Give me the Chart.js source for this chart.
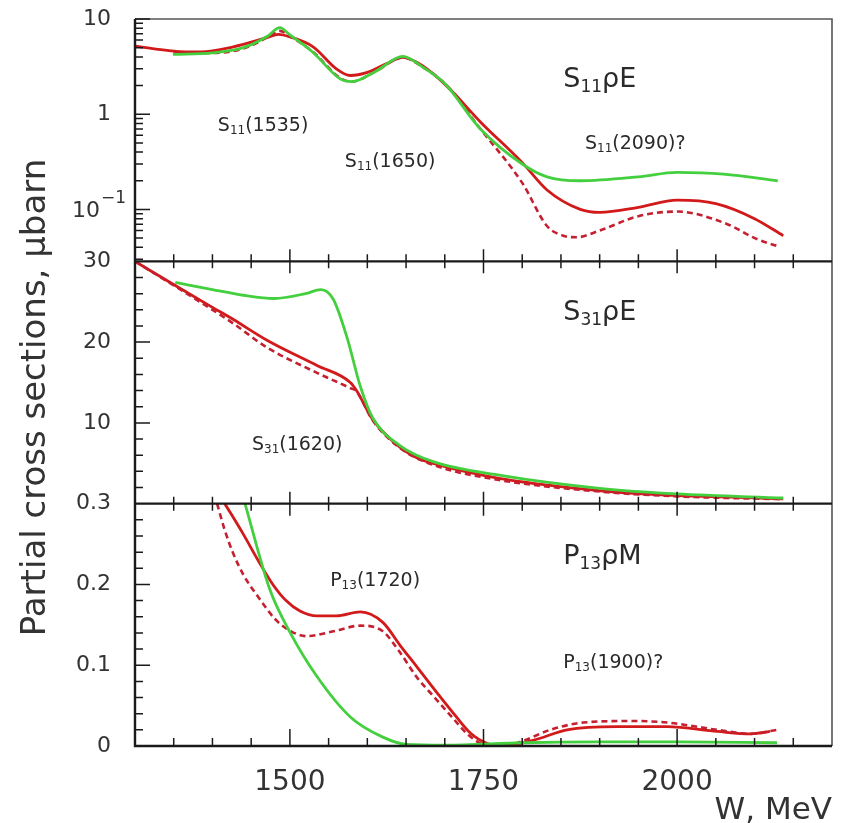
<!DOCTYPE html>
<html>
<head>
<meta charset="utf-8">
<script src="https://cdn.jsdelivr.net/npm/chart.js@4/dist/chart.umd.min.js"></script>
<style>
  html, body { margin: 0; padding: 0; background: #fff; }
  #wrap { width: 844px; height: 823px; }
</style>
</head>
<body>
<div id="wrap"><canvas id="xsecChart" width="844" height="823"></canvas></div>
<script>
// Partial cross sections S11pE / S31pE / P13pM vs W

// x axis
const wMin = 1300;
const wMax = 2200;
const wTicks = [1500, 1750, 2000];

// S11pE panel (log scale)
const s11Ticks = [0.1, 1, 10];
const s11TickLabels = ["", "1", "10"];
const s11RedW = [1300, 1350, 1385, 1427, 1471, 1485, 1500, 1530, 1560, 1578, 1600, 1625, 1646, 1672, 1703, 1746, 1800, 1832, 1875, 1900, 1950, 2000, 2050, 2100, 2137];
const s11Red = [5.2, 4.6, 4.5, 5.1, 6.4, 6.9, 6.5, 5.1, 3.0, 2.55, 2.75, 3.4, 3.95, 3.2, 1.96, 0.83, 0.31, 0.16, 0.1, 0.093, 0.105, 0.125, 0.115, 0.08, 0.053];
const s11GreenW = [1349, 1400, 1440, 1471, 1487, 1500, 1530, 1565, 1580, 1610, 1646, 1672, 1700, 1746, 1800, 1832, 1875, 1950, 2000, 2060, 2130];
const s11Green = [4.25, 4.4, 5.0, 6.6, 8.1, 6.8, 4.45, 2.35, 2.2, 2.8, 4.05, 3.1, 2.1, 0.7, 0.3, 0.22, 0.2, 0.22, 0.245, 0.235, 0.2];
const s11DashW = [1350, 1400, 1440, 1471, 1487, 1500, 1530, 1565, 1580, 1610, 1646, 1672, 1700, 1746, 1800, 1832, 1853, 1870, 1900, 1950, 2000, 2065, 2100, 2130];
const s11Dash = [4.4, 4.4, 4.9, 6.4, 7.5, 6.6, 4.5, 2.4, 2.2, 2.8, 3.95, 3.1, 2.1, 0.7, 0.19, 0.067, 0.053, 0.051, 0.06, 0.085, 0.095, 0.07, 0.05, 0.041];

// S31pE panel
const s31Ticks = [10, 20, 30];
const s31RedW = [1300, 1352, 1400, 1427, 1471, 1535, 1578, 1586, 1607, 1642, 1668, 1685, 1730, 1772, 1850, 1901, 2000, 2070, 2137];
const s31Red = [30, 27.0, 24.3, 22.8, 20.2, 17.1, 15.0, 14.0, 10.4, 7.0, 5.5, 5.0, 3.9, 3.1, 2.1, 1.6, 1.0, 0.8, 0.6];
const s31GreenW = [1352, 1400, 1440, 1480, 1520, 1540, 1556, 1574, 1591, 1607, 1642, 1685, 1772, 1900, 2000, 2137];
const s31Green = [27.4, 26.5, 25.8, 25.4, 26.0, 26.5, 25.3, 20.5, 14.5, 10.6, 7.2, 5.2, 3.5, 1.9, 1.2, 0.7];
const s31DashW = [1300, 1352, 1427, 1471, 1535, 1578, 1586, 1607, 1642, 1685, 1772, 1900, 2000, 2137];
const s31Dash = [30, 26.9, 22.3, 19.3, 16.2, 14.3, 13.9, 10.3, 6.9, 4.8, 2.9, 1.5, 0.9, 0.55];

// P13pM panel
const p13Ticks = [0, 0.1, 0.2, 0.3];
const p13RedW = [1416, 1440, 1460, 1478, 1495, 1513, 1535, 1560, 1591, 1620, 1642, 1664, 1685, 1710, 1733, 1755, 1775, 1814, 1858, 1922, 1987, 2052, 2095, 2120];
const p13Red = [0.3, 0.262, 0.228, 0.2, 0.18, 0.167, 0.161, 0.161, 0.166, 0.153, 0.125, 0.098, 0.072, 0.042, 0.016, 0.003, 0.0, 0.007, 0.02, 0.024, 0.024, 0.018, 0.015, 0.018];
const p13DashW = [1406, 1416, 1427, 1440, 1461, 1480, 1496, 1522, 1556, 1591, 1620, 1642, 1664, 1685, 1710, 1729, 1750, 1772, 1800, 1836, 1879, 1943, 1987, 2052, 2095, 2129];
const p13Dash = [0.3, 0.267, 0.238, 0.212, 0.182, 0.158, 0.145, 0.136, 0.142, 0.149, 0.142, 0.116, 0.085, 0.062, 0.035, 0.015, 0.002, 0.0, 0.006, 0.02, 0.029, 0.031, 0.029, 0.02, 0.015, 0.02];
const p13GreenW = [1442, 1474, 1500, 1535, 1578, 1620, 1651, 1700, 1800, 1900, 2000, 2129];
const p13Green = [0.3, 0.194, 0.141, 0.086, 0.036, 0.011, 0.002, 0.001, 0.004, 0.005, 0.005, 0.004];

// annotations: parts alternate normal / subscript
const noteParts = [
  ["S", "11", "\u03C1E"], ["S", "11", "(1535)"], ["S", "11", "(1650)"], ["S", "11", "(2090)?"],
  ["S", "31", "\u03C1E"], ["S", "31", "(1620)"],
  ["P", "13", "\u03C1M"], ["P", "13", "(1720)"], ["P", "13", "(1900)?"]
];
const noteAxis = ["yS11", "yS11", "yS11", "yS11", "yS31", "yS31", "yP13", "yP13", "yP13"];
const noteW = [1853, 1407, 1571, 1881, 1853, 1451, 1853, 1552, 1853];
const noteV = [1.92, 0.66, 0.28, 0.43, 22.7, 6.6, 0.225, 0.198, 0.097];
const noteBig = [true, false, false, false, true, false, true, false, false];

const yTitle = "Partial cross sections, \u03BCbarn";
const xTitle = "W, MeV";

const FONT = "'DejaVu Sans', sans-serif";
const GREEN = "#44cf3e";
const RED = "#d21a1a";
const RED_DASH = "#c42030";

function toPoints(ws, vs) {
  return ws.map((w, i) => ({ x: w, y: vs[i] }));
}

function lineSet(ws, vs, axis, color, dashed) {
  return {
    data: toPoints(ws, vs),
    yAxisID: axis,
    borderColor: color,
    borderWidth: dashed ? 2.6 : 2.8,
    borderDash: dashed ? [6, 4] : [],
    pointRadius: 0,
    fill: false,
    cubicInterpolationMode: "monotone",
  };
}

function drawSubText(ctx, parts, x, y, size) {
  const subSize = Math.round(size * 0.62);
  let cx = x;
  parts.forEach((part, i) => {
    const isSub = i % 2 === 1;
    ctx.font = (isSub ? subSize : size) + "px " + FONT;
    ctx.fillText(part, cx, isSub ? y + size * 0.16 : y);
    cx += ctx.measureText(part).width;
  });
}

const frameTicks = {
  id: "frameTicks",
  afterDatasetsDraw(chart) {
    const ctx = chart.ctx;
    const area = chart.chartArea;
    const xs = chart.scales.x;
    const yTop = chart.scales.yS11;
    const yMid = chart.scales.yS31;
    const yBot = chart.scales.yP13;

    ctx.save();
    ctx.lineCap = "butt";

    // top and right edges
    ctx.strokeStyle = "#555";
    ctx.lineWidth = 1.6;
    ctx.beginPath();
    ctx.moveTo(area.left, area.top);
    ctx.lineTo(area.right, area.top);
    ctx.lineTo(area.right, area.bottom);
    ctx.stroke();

    // left axis, bottom axis and panel joins
    ctx.strokeStyle = "#1a1a1a";
    ctx.lineWidth = 2.4;
    ctx.beginPath();
    ctx.moveTo(area.left, area.top);
    ctx.lineTo(area.left, area.bottom);
    ctx.lineTo(area.right, area.bottom);
    ctx.moveTo(area.left, yMid.top);
    ctx.lineTo(area.right, yMid.top);
    ctx.moveTo(area.left, yBot.top);
    ctx.lineTo(area.right, yBot.top);
    ctx.stroke();

    ctx.lineWidth = 1.5;
    ctx.beginPath();
    // x ticks
    for (let w = wMin + 50; w < wMax; w += 50) {
      const px = xs.getPixelForValue(w);
      const major = wTicks.includes(w);
      const len = major ? 12 : 7;
      [yMid.top, yBot.top].forEach((py) => {
        ctx.moveTo(px, py - len);
        ctx.lineTo(px, py + len);
      });
      ctx.moveTo(px, area.bottom);
      ctx.lineTo(px, area.bottom - (major ? 17 : 8));
    }
    // log panel ticks
    for (let k = -2; k <= 1; k++) {
      for (let m = 1; m <= 9; m++) {
        const v = m * Math.pow(10, k);
        if (v < yTop.min || v > yTop.max) continue;
        const py = yTop.getPixelForValue(v);
        ctx.moveTo(area.left, py);
        ctx.lineTo(area.left + (m === 1 ? 15 : 8), py);
      }
    }
    // S31 ticks
    for (let i = 1; i < 15; i++) {
      const py = yMid.getPixelForValue(i * 2);
      ctx.moveTo(area.left, py);
      ctx.lineTo(area.left + (i % 5 === 0 ? 15 : 8), py);
    }
    // P13 ticks
    for (let i = 1; i < 15; i++) {
      const py = yBot.getPixelForValue(i * 0.02);
      ctx.moveTo(area.left, py);
      ctx.lineTo(area.left + (i % 5 === 0 ? 15 : 8), py);
    }
    ctx.stroke();
    ctx.restore();
  },
  afterDraw(chart) {
    const ctx = chart.ctx;
    const xs = chart.scales.x;
    const yTop = chart.scales.yS11;
    ctx.save();
    ctx.fillStyle = "#2a2a2a";
    ctx.textBaseline = "alphabetic";
    ctx.textAlign = "left";
    noteParts.forEach((parts, i) => {
      const ys = chart.scales[noteAxis[i]];
      const px = xs.getPixelForValue(noteW[i]);
      const py = ys.getPixelForValue(noteV[i]);
      drawSubText(ctx, parts, px, py, noteBig[i] ? 27 : 19);
    });

    // 10^-1 label of the log panel, with a real superscript
    const py = yTop.getPixelForValue(s11Ticks[0]);
    ctx.fillStyle = "#333";
    ctx.textBaseline = "middle";
    ctx.textAlign = "right";
    ctx.font = "22px " + FONT;
    ctx.fillText("10", 100, py + 2);
    ctx.textAlign = "left";
    ctx.font = "17px " + FONT;
    ctx.fillText("\u22121", 101, py - 11);

    // y axis title spanning the three panels
    ctx.textBaseline = "alphabetic";
    ctx.translate(45, (chart.chartArea.top + chart.chartArea.bottom) / 2 + 15);
    ctx.rotate(-Math.PI / 2);
    ctx.textAlign = "center";
    ctx.font = "34px " + FONT;
    ctx.fillText(yTitle, 0, 0);
    ctx.restore();
  },
};

function fixedTicks(values) {
  return function (scale) {
    scale.ticks = values.map((v) => ({ value: v }));
  };
}

const yCommon = {
  position: "left",
  stack: "panels",
  stackWeight: 1,
  grid: { display: false, drawTicks: false },
  border: { display: false },
  afterFit: (scale) => {
    scale.width = 135;
    scale.paddingTop = 0;
    scale.paddingBottom = 0;
  },
};

const tickFont = { family: FONT, size: 22 };

new Chart(document.getElementById("xsecChart"), {
  type: "line",
  data: {
    datasets: [
      lineSet(s11GreenW, s11Green, "yS11", GREEN, false),
      lineSet(s11DashW, s11Dash, "yS11", RED_DASH, true),
      lineSet(s11RedW, s11Red, "yS11", RED, false),
      lineSet(s31GreenW, s31Green, "yS31", GREEN, false),
      lineSet(s31DashW, s31Dash, "yS31", RED_DASH, true),
      lineSet(s31RedW, s31Red, "yS31", RED, false),
      lineSet(p13GreenW, p13Green, "yP13", GREEN, false),
      lineSet(p13DashW, p13Dash, "yP13", RED_DASH, true),
      lineSet(p13RedW, p13Red, "yP13", RED, false),
    ],
  },
  options: {
    responsive: false,
    animation: false,
    devicePixelRatio: 1,
    layout: { padding: { left: 0, right: 12, top: 19, bottom: 0 } },
    plugins: {
      legend: { display: false },
      tooltip: { enabled: false },
    },
    scales: {
      x: {
        type: "linear",
        min: wMin,
        max: wMax,
        grid: { display: false, drawTicks: false },
        border: { display: false },
        afterBuildTicks: fixedTicks(wTicks),
        afterFit: (scale) => {
          scale.height = 77;
          scale.paddingLeft = 0;
          scale.paddingRight = 0;
        },
        ticks: {
          autoSkip: false,
          maxRotation: 0,
          padding: 20,
          color: "#333",
          font: { family: FONT, size: 28 },
          callback: (v) => String(v),
        },
        title: {
          display: true,
          text: xTitle,
          align: "end",
          color: "#333",
          padding: { top: 0, bottom: 0 },
          font: { family: FONT, size: 31, lineHeight: 0.8 },
        },
      },
      yP13: Object.assign({}, yCommon, {
        type: "linear",
        min: 0,
        max: 0.3,
        afterBuildTicks: fixedTicks(p13Ticks),
        ticks: { autoSkip: false, padding: 24, color: "#333", font: tickFont, callback: (v) => String(v) },
      }),
      yS31: Object.assign({}, yCommon, {
        type: "linear",
        min: 0,
        max: 30,
        afterBuildTicks: fixedTicks(s31Ticks),
        ticks: { autoSkip: false, padding: 24, color: "#333", font: tickFont, callback: (v) => String(v) },
      }),
      yS11: Object.assign({}, yCommon, {
        type: "logarithmic",
        min: 0.0285,
        max: 10,
        afterBuildTicks: fixedTicks(s11Ticks),
        ticks: { autoSkip: false, padding: 24, color: "#333", font: tickFont, callback: (v, i) => s11TickLabels[i] },
      }),
    },
  },
  plugins: [frameTicks],
});
</script>
</body>
</html>
